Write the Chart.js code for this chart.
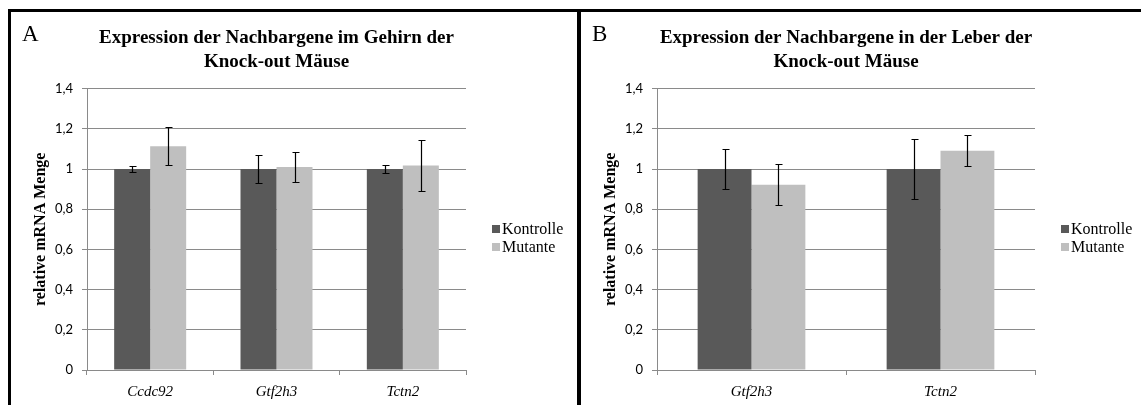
<!DOCTYPE html>
<html>
<head>
<meta charset="utf-8">
<script src="https://cdn.jsdelivr.net/npm/chart.js@4.4.0/dist/chart.umd.min.js"></script>
<style>
  html, body { margin: 0; padding: 0; background: #fff; }
  body { width: 1141px; height: 405px; position: relative; overflow: hidden; }
  .rule { position: absolute; background: #000; }
  .panel { position: absolute; top: 12px; }
  .tag { position: absolute; top: 22px; font: 23px "Liberation Serif", serif; line-height: 1; color: #000; }
</style>
</head>
<body>
<div class="rule" style="left:8px;top:9px;width:1133px;height:3px"></div>
<div class="rule" style="left:8px;top:9px;width:3px;height:396px"></div>
<div class="rule" style="left:577px;top:9px;width:4px;height:396px"></div>

<canvas id="chartA" class="panel" style="left:11px" width="566" height="393"></canvas>
<canvas id="chartB" class="panel" style="left:581px" width="560" height="393"></canvas>
<div class="tag" style="left:22px">A</div>
<div class="tag" style="left:592px">B</div>

<script>
'use strict'

// Panel A - Gehirn
const genesA = ['Ccdc92', 'Gtf2h3', 'Tctn2']
const kontrolleA = [1.0, 1.0, 1.0]
const kontrolleErrA = [0.016, 0.071, 0.018]
const mutanteA = [1.113, 1.010, 1.017]
const mutanteErrA = [0.095, 0.075, 0.125]

// Panel B - Leber
const genesB = ['Gtf2h3', 'Tctn2']
const kontrolleB = [1.0, 1.0]
const kontrolleErrB = [0.10, 0.15]
const mutanteB = [0.922, 1.091]
const mutanteErrB = [0.102, 0.078]

const yTickLabels = ['0', '0,2', '0,4', '0,6', '0,8', '1', '1,2', '1,4']

const serif = '"Liberation Serif", "Times New Roman", serif'
const gridGray = '#8a8a8a'

// error whiskers, drawn from the bar elements and the y scale
const errorBars = {
  id: 'errorBars',
  afterDatasetsDraw (chart) {
    const { ctx } = chart
    const y = chart.scales.y
    ctx.save()
    ctx.strokeStyle = '#000'
    ctx.lineWidth = 1.2
    chart.data.datasets.forEach((ds, i) => {
      chart.getDatasetMeta(i).data.forEach((bar, j) => {
        const v = ds.data[j]
        const e = ds.errors[j]
        const x = Math.round(bar.x) + 0.5
        const top = Math.round(y.getPixelForValue(v + e)) + 0.5
        const bot = Math.round(y.getPixelForValue(v - e)) + 0.5
        ctx.beginPath()
        ctx.moveTo(x, top); ctx.lineTo(x, bot)
        ctx.moveTo(x - 3, top); ctx.lineTo(x + 4, top)
        ctx.moveTo(x - 3, bot); ctx.lineTo(x + 4, bot)
        ctx.stroke()
      })
    })
    ctx.restore()
  }
}

// legend to the right of the plot area
const sideLegend = {
  id: 'sideLegend',
  afterDraw (chart, args, opts) {
    const { ctx, chartArea } = chart
    const mid = (chartArea.top + chartArea.bottom) / 2 + opts.shift
    ctx.save()
    ctx.font = '16px ' + serif
    ctx.textBaseline = 'middle'
    ctx.textAlign = 'left'
    chart.data.datasets.forEach((ds, i) => {
      const cy = mid + (i - 0.5) * 18
      const x = chartArea.right + opts.gap
      ctx.fillStyle = ds.backgroundColor
      ctx.fillRect(x, Math.round(cy - 4), 8, 8)
      ctx.fillStyle = '#000'
      ctx.fillText(ds.label, x + 10, cy + 1)
    })
    ctx.restore()
  }
}

function makeChart (id, genes, kon, konErr, mut, mutErr, title, padRight) {
  return new Chart(document.getElementById(id), {
    type: 'bar',
    data: {
      labels: genes,
      datasets: [
        { label: 'Kontrolle', data: kon, errors: konErr, backgroundColor: '#595959' },
        { label: 'Mutante', data: mut, errors: mutErr, backgroundColor: '#bfbfbf' }
      ]
    },
    options: {
      responsive: false,
      animation: false,
      datasets: {
        bar: { barPercentage: 1, categoryPercentage: 0.57, borderWidth: 0 }
      },
      layout: { padding: { left: 0, right: padRight, top: 0, bottom: 0 } },
      scales: {
        x: {
          afterFit (scale) { scale.height = 35 },
          grid: { offset: true, drawOnChartArea: false, drawTicks: true, tickLength: 5, color: gridGray },
          border: { color: gridGray },
          ticks: { color: '#000', padding: 8, font: { family: serif, size: 15, style: 'italic' } }
        },
        y: {
          min: 0,
          max: 1.4,
          afterFit (scale) { scale.width = 76 },
          grid: { color: gridGray, tickLength: 5 },
          border: { color: gridGray },
          ticks: {
            stepSize: 0.2,
            color: '#000',
            padding: 9,
            font: { family: 'Lato, sans-serif', size: 13 },
            callback: (v, i) => yTickLabels[i]
          },
          title: {
            display: true,
            text: 'relative mRNA Menge',
            color: '#000',
            font: { family: serif, size: 16, weight: 'bold' },
            padding: { top: 20, bottom: 0 }
          }
        }
      },
      plugins: {
        legend: { display: false },
        tooltip: { enabled: false },
        title: {
          display: true,
          fullSize: false,
          text: title,
          color: '#000',
          font: { family: serif, size: 19, weight: 'bold', lineHeight: 1.28 },
          padding: { top: 14, bottom: 14 }
        },
        sideLegend: { gap: 26, shift: 8.5 }
      }
    },
    plugins: [errorBars, sideLegend]
  })
}

makeChart('chartA', genesA, kontrolleA, kontrolleErrA, mutanteA, mutanteErrA,
  ['Expression der Nachbargene im Gehirn der', 'Knock-out Mäuse'], 111)
makeChart('chartB', genesB, kontrolleB, kontrolleErrB, mutanteB, mutanteErrB,
  ['Expression der Nachbargene in der Leber der', 'Knock-out Mäuse'], 106)
</script>
</body>
</html>
